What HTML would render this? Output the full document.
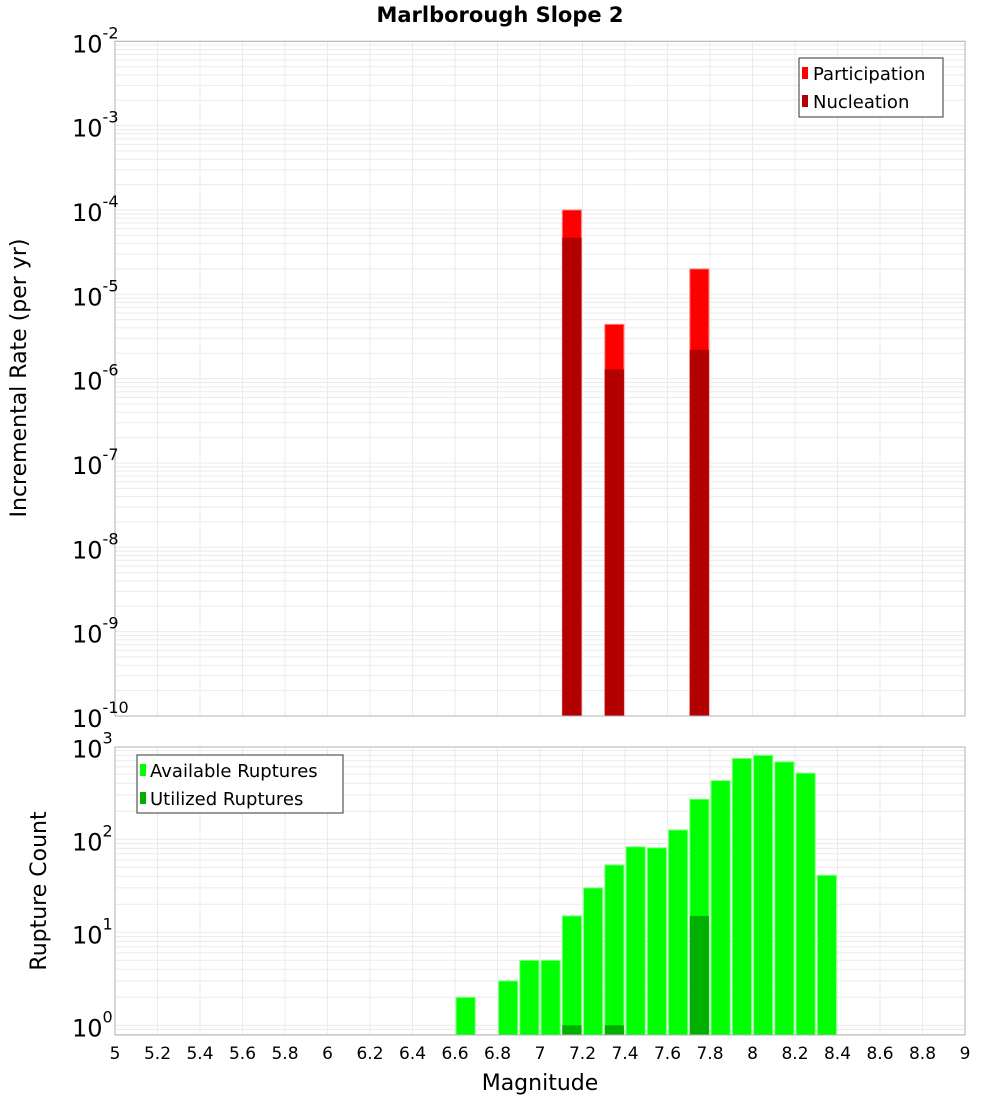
<!DOCTYPE html>
<html><head><meta charset="utf-8"><style>
body{margin:0;background:#fff;}
svg{display:block;font-family:"DejaVu Sans","Liberation Sans",sans-serif;}
</style></head><body>
<svg id="c" width="1000" height="1100" xmlns="http://www.w3.org/2000/svg"></svg>
<script>
const magBins=[7.15,7.35,7.75];
const participation=[1.0e-4,4.4e-6,2.0e-5];
const nucleation=[4.7e-5,1.29e-6,2.2e-6];
const countBins=[6.65,6.85,6.95,7.05,7.15,7.25,7.35,7.45,7.55,7.65,7.75,7.85,7.95,8.05,8.15,8.25,8.35];
const available=[2,3,5,5,15,30,53,83,81,126,270,427,740,800,680,515,41];
const utilBins=[7.15,7.35,7.75];
const utilized=[1,1,15];
const xTicks=[5,5.2,5.4,5.6,5.8,6,6.2,6.4,6.6,6.8,7,7.2,7.4,7.6,7.8,8,8.2,8.4,8.6,8.8,9];
const topExps=[-2,-3,-4,-5,-6,-7,-8,-9,-10];
const botExps=[3,2,1,0];

const NS="http://www.w3.org/2000/svg";
const svg=document.getElementById('c');
function el(t,a,p){const e=document.createElementNS(NS,t);for(const k in a)e.setAttribute(k,a[k]);(p||svg).appendChild(e);return e;}
const X0=115,X1=965;
const xs=m=>X0+(m-5)/4*(X1-X0);
const T0=41.3,T1=716;
const yTop=v=>T0+(-2-Math.log10(v))*(T1-T0)/8;
const B0=747,B1=1035,dec=93,y10=1025.3;
const yBot=v=>y10-Math.log10(v)*dec;
const bw=(X1-X0)/40*0.9;

function grid(g,ya,yb,exLo,exHi,yf){
  for(let e=exLo;e<exHi;e++)for(let k=1;k<10;k++){const y=yf(k*Math.pow(10,e));if(y<ya-0.5||y>yb+0.5)continue;
    const l=el('line',{x1:X0,x2:X1,y1:y,y2:y,stroke:'#ebebeb','stroke-width':1},g);
    
    }
  xTicks.forEach(t=>{const x=xs(t);
    const l=el('line',{x1:x,x2:x,y1:ya,y2:yb,stroke:'#ebebeb','stroke-width':1},g);
    
    });
}
// top plot
const gt=el('g',{});


grid(gt,T0,T1,-11,-1,yTop);
magBins.forEach((m,i)=>{
  const r=el('rect',{x:xs(m)-bw/2,y:yTop(participation[i]),width:bw,height:T1-yTop(participation[i]),fill:'#ff0000',stroke:'#ff8080','stroke-width':1},gt);
  
  
  const n=el('rect',{x:xs(m)-bw/2,y:yTop(nucleation[i]),width:bw,height:T1-yTop(nucleation[i]),fill:'#b30000'},gt);
  
  
});
el('rect',{x:X0,y:T0,width:X1-X0,height:T1-T0,fill:'none',stroke:'#b0b0b0'},gt);
topExps.forEach(e=>{const y=yTop(Math.pow(10,e));
  const t=el('text',{x:72,y:y+11,'font-size':24,fill:'#000'},gt);
  
  
  t.textContent='10';
  const s=el('tspan',{dy:-14,'font-size':16},t);s.textContent=String(e);
});
// bottom plot
const gb=el('g',{});


grid(gb,B0,B1,-1,3,yBot);
countBins.forEach((m,i)=>{
  const r=el('rect',{x:xs(m)-bw/2,y:yBot(available[i]),width:bw,height:B1-yBot(available[i]),fill:'#00ff00',stroke:'#80ff80','stroke-width':1},gb);
  
  
});
utilBins.forEach((m,i)=>{
  const r=el('rect',{x:xs(m)-bw/2,y:yBot(utilized[i]),width:bw,height:B1-yBot(utilized[i]),fill:'#00b000'},gb);
  
  
});
el('rect',{x:X0,y:B0,width:X1-X0,height:B1-B0,fill:'none',stroke:'#b0b0b0'},gb);
botExps.forEach(e=>{const y=yBot(Math.pow(10,e));
  const t=el('text',{x:72,y:y+11,'font-size':24,fill:'#000'},gb);
  
  
  t.textContent='10';
  const s=el('tspan',{dy:-14,'font-size':16},t);s.textContent=String(e);
});
xTicks.forEach(v=>{
  const t=el('text',{x:xs(v),y:1059,'font-size':17,'text-anchor':'middle',fill:'#000'});
  
  
  t.textContent=String(v);
});
</script>
<svg width="1000" height="1100" style="position:absolute;left:0;top:0" xmlns="http://www.w3.org/2000/svg" font-family="DejaVu Sans, Liberation Sans, sans-serif">
<text x="500" y="22" font-size="21" font-weight="bold" text-anchor="middle">Marlborough Slope 2</text>
<text transform="translate(26,378) rotate(-90)" font-size="22" text-anchor="middle">Incremental Rate (per yr)</text>
<text transform="translate(46,891) rotate(-90)" font-size="22" text-anchor="middle">Rupture Count</text>
<text x="540" y="1090" font-size="22" text-anchor="middle">Magnitude</text>
<g>
<rect x="799" y="58" width="144" height="59" fill="#fff" stroke="#333"/>
<rect x="802" y="67" width="6" height="12" fill="#ff0000"/>
<text x="813" y="80" font-size="18">Participation</text>
<rect x="802" y="95" width="6" height="12" fill="#b30000"/>
<text x="813" y="108" font-size="18">Nucleation</text>
</g>
<g>
<rect x="137" y="755" width="206" height="58" fill="#fff" stroke="#333"/>
<rect x="140" y="764" width="6" height="12" fill="#00ff00"/>
<text x="150" y="777" font-size="18">Available Ruptures</text>
<rect x="140" y="792" width="6" height="12" fill="#00b000"/>
<text x="150" y="805" font-size="18">Utilized Ruptures</text>
</g>
</svg>
</body></html>
